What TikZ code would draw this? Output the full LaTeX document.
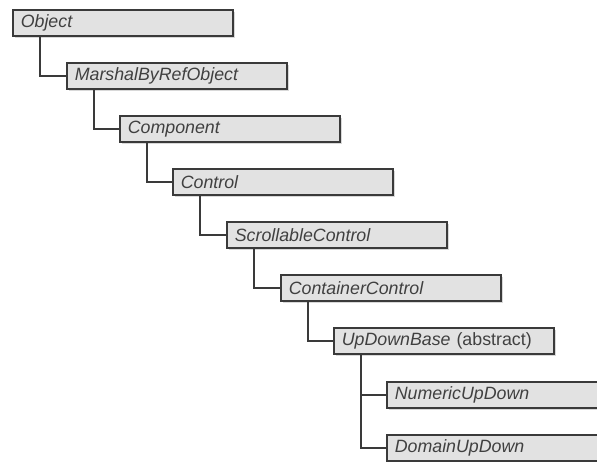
\documentclass[tikz,border=0pt]{standalone}
\usepackage{fontspec}
\setmainfont{Liberation Sans}
\usetikzlibrary{shadows}
\definecolor{boxfill}{RGB}{226,226,226}
\definecolor{boxline}{RGB}{58,58,58}
\definecolor{txtgray}{RGB}{64,64,64}

\begin{document}
\begin{tikzpicture}[x=1pt,y=-1pt,
  cnode/.style={rectangle,draw=boxline,line width=1.6pt,fill=boxfill,
               text width=204pt,minimum height=26pt,inner xsep=8pt,inner ysep=0pt,
               anchor=north west,align=left,text=txtgray,
               font=\fontsize{17.8}{19}\selectfont\itshape,
               drop shadow={shadow xshift=2pt,shadow yshift=-2pt,fill=black!30}},
  link/.style={draw=boxline,line width=1.6pt}]
\useasboundingbox (0,0) rectangle (597,462);
\clip (0,0) rectangle (597,462);
\node[cnode] (obj)  at (12,9)   {Object};
\node[cnode] (mbr)  at (66,62)  {MarshalByRefObject};
\node[cnode] (comp) at (119,115) {Component};
\node[cnode] (ctl)  at (172,168) {Control};
\node[cnode] (scr)  at (226,221) {ScrollableControl};
\node[cnode] (cont) at (280,274) {ContainerControl};
\node[cnode] (udb)  at (333,327) {UpDownBase \upshape(abstract)};
\node[cnode] (num)  at (386,381) {NumericUpDown};
\node[cnode] (dom)  at (386,434) {DomainUpDown};
\draw[link] ([xshift=28pt]obj.south west)  |- (mbr.west);
\draw[link] ([xshift=28pt]mbr.south west)  |- (comp.west);
\draw[link] ([xshift=28pt]comp.south west) |- (ctl.west);
\draw[link] ([xshift=28pt]ctl.south west)  |- (scr.west);
\draw[link] ([xshift=28pt]scr.south west)  |- (cont.west);
\draw[link] ([xshift=28pt]cont.south west) |- (udb.west);
\draw[link] ([xshift=28pt]udb.south west)  |- (num.west);
\draw[link] ([xshift=28pt]udb.south west)  |- (dom.west);
\end{tikzpicture}
\end{document}
